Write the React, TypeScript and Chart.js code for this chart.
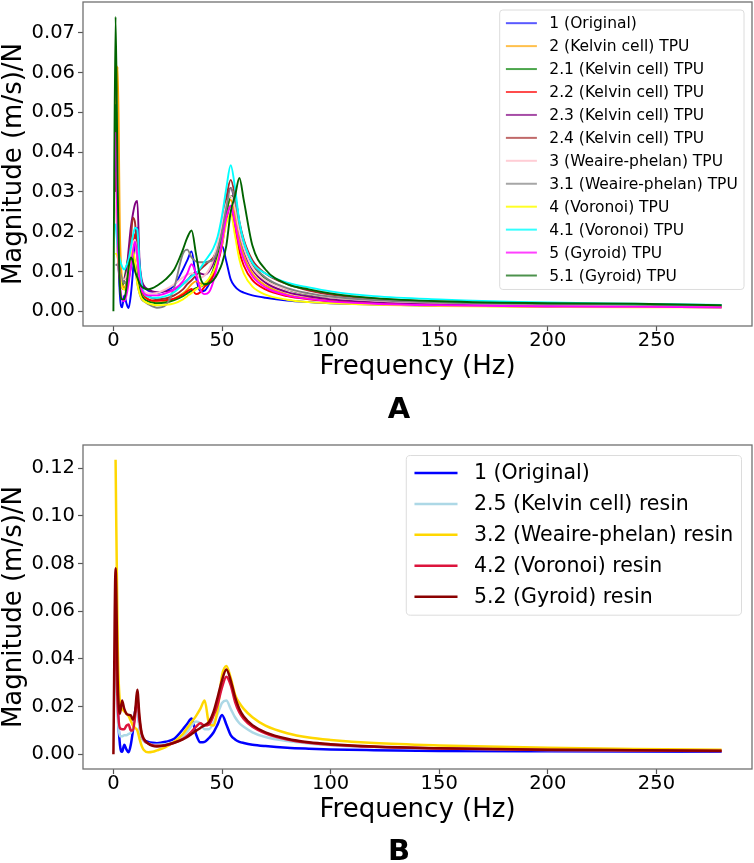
import React, { useEffect, useRef } from "react";
import { Chart, registerables } from "chart.js";

Chart.register(...registerables);

const FONT = "'DejaVu Sans', sans-serif";

// Shared frequency grid (Hz)
const freq = [0, 1, 2, 3, 4, 5, 6, 7, 8, 9, 10, 11, 12, 13, 14, 16, 18, 20, 24, 28, 32, 34, 36, 38, 40, 42, 44, 46, 48, 50, 52, 54, 56, 58, 60, 64, 70, 80, 90, 100, 120, 150, 200, 240, 280];

const xTicks = [0, 50, 100, 150, 200, 250];
const yTicksA = [0, 0.01, 0.02, 0.03, 0.04, 0.05, 0.06, 0.07];
const yTicksB = [0, 0.02, 0.04, 0.06, 0.08, 0.1, 0.12];

// Panel A series
const original = [null, 0.058, 0.02, 0.004, 0.001, 0.004, 0.002, 0.0008, 0.004, 0.01, 0.018, 0.021, 0.012, 0.007, 0.006, 0.0052, 0.0048, 0.0046, 0.0052, 0.0065, 0.0105, 0.0128, 0.015, 0.0085, 0.005, 0.0052, 0.0068, 0.009, 0.0125, 0.0165, 0.0125, 0.008, 0.0062, 0.0052, 0.0047, 0.004, 0.0034, 0.0027, 0.0023, 0.002, 0.0017, 0.0014, 0.0012, 0.0011, 0.001];
const kelvin2 = [null, 0.05, 0.0615, 0.02, 0.008, 0.006, 0.007, 0.009, 0.012, 0.016, 0.018, 0.013, 0.008, 0.005, 0.004, 0.003, 0.0025, 0.0022, 0.0025, 0.0032, 0.0045, 0.0055, 0.0068, 0.0075, 0.007, 0.0065, 0.0072, 0.0095, 0.013, 0.019, 0.025, 0.028, 0.024, 0.018, 0.014, 0.0095, 0.0065, 0.0042, 0.0032, 0.0026, 0.002, 0.0016, 0.0013, 0.0012, 0.0011];
const kelvin21 = [null, 0.052, 0.02, 0.008, 0.0065, 0.008, 0.011, 0.014, 0.016, 0.0145, 0.012, 0.009, 0.006, 0.004, 0.0032, 0.0025, 0.0022, 0.002, 0.0022, 0.0028, 0.0038, 0.0045, 0.0052, 0.0058, 0.0062, 0.0068, 0.008, 0.0105, 0.014, 0.019, 0.0245, 0.029, 0.0285, 0.022, 0.0175, 0.012, 0.0082, 0.0055, 0.0042, 0.0035, 0.0028, 0.0022, 0.0018, 0.0016, 0.0014];
const kelvin22 = [null, 0.045, 0.018, 0.009, 0.006, 0.0055, 0.006, 0.008, 0.011, 0.016, 0.0195, 0.017, 0.009, 0.0055, 0.004, 0.003, 0.0027, 0.0026, 0.0028, 0.0032, 0.0042, 0.005, 0.0056, 0.0043, 0.0048, 0.0062, 0.0072, 0.009, 0.012, 0.0165, 0.023, 0.0265, 0.021, 0.015, 0.0115, 0.0078, 0.0055, 0.0038, 0.003, 0.0025, 0.0019, 0.0015, 0.0012, 0.0011, 0.001];
const kelvin23 = [null, 0.04, 0.016, 0.009, 0.0075, 0.008, 0.01, 0.0155, 0.021, 0.0245, 0.027, 0.0277, 0.013, 0.008, 0.0065, 0.0055, 0.005, 0.0048, 0.005, 0.0055, 0.0068, 0.0078, 0.009, 0.0098, 0.0095, 0.0092, 0.01, 0.012, 0.0155, 0.0215, 0.028, 0.031, 0.027, 0.02, 0.0155, 0.0105, 0.0072, 0.0048, 0.0037, 0.003, 0.0023, 0.0018, 0.0014, 0.0013, 0.0012];
const kelvin24 = [null, 0.035, 0.014, 0.008, 0.006, 0.0055, 0.007, 0.011, 0.018, 0.0235, 0.022, 0.014, 0.008, 0.0055, 0.0045, 0.0038, 0.0033, 0.003, 0.0032, 0.004, 0.0055, 0.0068, 0.0078, 0.009, 0.0105, 0.0115, 0.0125, 0.0135, 0.016, 0.021, 0.0285, 0.033, 0.029, 0.0225, 0.018, 0.0128, 0.0095, 0.0068, 0.0052, 0.0042, 0.0032, 0.0024, 0.0019, 0.0017, 0.0015];
const weaire3 = [null, 0.03, 0.014, 0.009, 0.008, 0.008, 0.009, 0.011, 0.014, 0.017, 0.018, 0.014, 0.008, 0.006, 0.005, 0.0045, 0.0045, 0.0046, 0.0055, 0.0068, 0.0085, 0.0092, 0.0095, 0.009, 0.0085, 0.009, 0.0105, 0.013, 0.017, 0.022, 0.027, 0.029, 0.026, 0.02, 0.016, 0.011, 0.0078, 0.0055, 0.0043, 0.0035, 0.0027, 0.0021, 0.0017, 0.0015, 0.0014];
const weaire31 = [null, 0.0115, 0.0118, 0.01, 0.008, 0.007, 0.0075, 0.009, 0.011, 0.0125, 0.011, 0.007, 0.0045, 0.003, 0.0025, 0.0018, 0.0012, 0.0009, 0.0015, 0.006, 0.0145, 0.0155, 0.0135, 0.0125, 0.0123, 0.0123, 0.0125, 0.013, 0.0155, 0.02, 0.026, 0.031, 0.028, 0.022, 0.0175, 0.012, 0.0085, 0.0058, 0.0045, 0.0037, 0.0028, 0.0022, 0.0018, 0.0016, 0.0014];
const voronoi4 = [null, 0.0146, 0.0135, 0.009, 0.006, 0.0055, 0.0065, 0.009, 0.013, 0.0155, 0.012, 0.007, 0.0045, 0.0032, 0.0026, 0.002, 0.0017, 0.0015, 0.0016, 0.002, 0.003, 0.0038, 0.0046, 0.0055, 0.0062, 0.007, 0.0082, 0.01, 0.013, 0.017, 0.022, 0.0245, 0.019, 0.013, 0.0095, 0.0062, 0.0042, 0.0029, 0.0023, 0.002, 0.0016, 0.0013, 0.0011, 0.001, 0.001];
const voronoi41 = [null, 0.022, 0.016, 0.013, 0.0112, 0.0105, 0.0115, 0.013, 0.016, 0.019, 0.021, 0.0205, 0.012, 0.007, 0.0045, 0.0037, 0.0034, 0.0034, 0.0038, 0.0048, 0.0068, 0.0078, 0.0088, 0.0095, 0.0108, 0.0125, 0.014, 0.0158, 0.0188, 0.024, 0.031, 0.0367, 0.031, 0.0225, 0.0175, 0.0122, 0.0095, 0.0072, 0.006, 0.005, 0.0038, 0.003, 0.0022, 0.0019, 0.0016];
const gyroid5 = [null, 0.045, 0.018, 0.007, 0.003, 0.0025, 0.004, 0.007, 0.011, 0.015, 0.0175, 0.014, 0.008, 0.0055, 0.0045, 0.004, 0.004, 0.004, 0.0045, 0.0055, 0.0075, 0.0095, 0.0118, 0.0095, 0.0055, 0.0043, 0.0048, 0.0075, 0.012, 0.0175, 0.0235, 0.0265, 0.022, 0.0165, 0.013, 0.0088, 0.006, 0.004, 0.0031, 0.0025, 0.0019, 0.0015, 0.0012, 0.0011, 0.001];
const gyroid51 = [0, 0.074, 0.03, 0.006, 0.003, 0.003, 0.006, 0.011, 0.0135, 0.0125, 0.01, 0.0085, 0.007, 0.0062, 0.0058, 0.0055, 0.0058, 0.0064, 0.008, 0.0105, 0.0155, 0.0185, 0.0203, 0.0145, 0.0085, 0.0068, 0.007, 0.0078, 0.0095, 0.012, 0.0165, 0.025, 0.029, 0.0335, 0.028, 0.0165, 0.0105, 0.0068, 0.0055, 0.0045, 0.0033, 0.0025, 0.002, 0.0019, 0.0015];

// Panel B series
const kelvin25 = [null, 0.035, 0.015, 0.0075, 0.0075, 0.008, 0.008, 0.0085, 0.009, 0.011, 0.017, 0.02, 0.011, 0.007, 0.0055, 0.0045, 0.004, 0.004, 0.0042, 0.005, 0.0075, 0.0095, 0.012, 0.0137, 0.013, 0.0105, 0.0105, 0.013, 0.017, 0.0215, 0.0225, 0.019, 0.0155, 0.013, 0.0115, 0.0092, 0.0072, 0.0055, 0.0045, 0.0038, 0.003, 0.0024, 0.0018, 0.0016, 0.0014];
const weaire32 = [null, 0.1235, 0.045, 0.022, 0.019, 0.018, 0.017, 0.016, 0.014, 0.012, 0.011, 0.01, 0.0065, 0.0035, 0.0018, 0.0008, 0.001, 0.0016, 0.003, 0.0052, 0.0085, 0.011, 0.0135, 0.016, 0.019, 0.0225, 0.013, 0.012, 0.019, 0.033, 0.037, 0.032, 0.025, 0.0215, 0.019, 0.0155, 0.012, 0.0088, 0.007, 0.006, 0.0047, 0.0037, 0.0027, 0.0022, 0.0019];
const voronoi42 = [null, 0.048, 0.02, 0.011, 0.0105, 0.0105, 0.012, 0.0125, 0.01, 0.01, 0.016, 0.024, 0.014, 0.0085, 0.006, 0.0045, 0.0038, 0.0035, 0.0038, 0.0048, 0.0065, 0.0078, 0.0095, 0.0115, 0.013, 0.012, 0.0125, 0.016, 0.021, 0.028, 0.0325, 0.029, 0.022, 0.0175, 0.0148, 0.0115, 0.0088, 0.0062, 0.0048, 0.004, 0.0031, 0.0024, 0.0018, 0.0016, 0.0014];
const gyroid52 = [0, 0.078, 0.03, 0.017, 0.0225, 0.019, 0.017, 0.0165, 0.0163, 0.0145, 0.018, 0.027, 0.016, 0.009, 0.0065, 0.0045, 0.0035, 0.0032, 0.0038, 0.0048, 0.0062, 0.0072, 0.0085, 0.0098, 0.011, 0.0122, 0.0135, 0.0175, 0.024, 0.031, 0.0355, 0.031, 0.024, 0.019, 0.0158, 0.0122, 0.0092, 0.0065, 0.005, 0.0042, 0.0032, 0.0025, 0.0019, 0.0017, 0.0015];

const labelsA = [
  "1 (Original)",
  "2 (Kelvin cell) TPU",
  "2.1 (Kelvin cell) TPU",
  "2.2 (Kelvin cell) TPU",
  "2.3 (Kelvin cell) TPU",
  "2.4 (Kelvin cell) TPU",
  "3 (Weaire-phelan) TPU",
  "3.1 (Weaire-phelan) TPU",
  "4 (Voronoi) TPU",
  "4.1 (Voronoi) TPU",
  "5 (Gyroid) TPU",
  "5.1 (Gyroid) TPU",
];
const colorsA = ["#0000ff", "#ffa500", "#008000", "#ff0000", "#800080", "#a52a2a", "#ffc0cb", "#808080", "#ffff00", "#00ffff", "#ff00ff", "#006400"];
const legendColorsA = [
  "rgba(0,0,255,0.65)",
  "rgba(255,165,0,0.7)",
  "rgba(0,128,0,0.7)",
  "rgba(255,0,0,0.7)",
  "rgba(128,0,128,0.7)",
  "rgba(165,42,42,0.7)",
  "rgba(255,192,203,0.8)",
  "rgba(128,128,128,0.7)",
  "rgba(255,255,0,0.85)",
  "rgba(0,255,255,0.8)",
  "rgba(255,0,255,0.75)",
  "rgba(0,100,0,0.7)",
];
const seriesA = [original, kelvin2, kelvin21, kelvin22, kelvin23, kelvin24, weaire3, weaire31, voronoi4, voronoi41, gyroid5, gyroid51];

const labelsB = [
  "1 (Original)",
  "2.5 (Kelvin cell) resin",
  "3.2 (Weaire-phelan) resin",
  "4.2 (Voronoi) resin",
  "5.2 (Gyroid) resin",
];
const colorsB = ["#0000ff", "#add8e6", "#ffd700", "#dc143c", "#8b0000"];
const seriesB = [original, kelvin25, weaire32, voronoi42, gyroid52];

function toPoints(values: (number | null)[]) {
  return freq
    .map((f, i) => ({ x: f, y: values[i] }))
    .filter((p) => p.y !== null && p.y !== undefined);
}

function buildDatasets(series: any[], labels: string[], colors: string[], width: number) {
  const n = series.length;
  return series.map((s, i) => ({
    label: labels[i],
    data: toPoints(s),
    borderColor: colors[i],
    backgroundColor: colors[i],
    borderWidth: width,
    pointRadius: 0,
    fill: false,
    cubicInterpolationMode: "monotone",
    order: n - i,
  }));
}

const frameLegendPlugin = {
  id: "boxLegend",
  afterDraw(chart: any, _args: any, opts: any) {
    const { ctx, chartArea: a } = chart;
    ctx.save();
    // frame
    ctx.strokeStyle = "#707070";
    ctx.lineWidth = 1.3;
    ctx.strokeRect(a.left, a.top, a.right - a.left, a.bottom - a.top);

    // legend
    const fs = opts.fontSize;
    const items = opts.items as { label: string; color: string }[];
    ctx.font = `${fs}px ${FONT}`;
    const maxW = Math.max(...items.map((it) => ctx.measureText(it.label).width));
    const pad = 0.4 * fs;
    const handle = opts.handle * fs;
    const gap = 0.8 * fs;
    const row = opts.row * fs;
    const w = pad + handle + gap + maxW + pad;
    const h = 0.85 * fs + (items.length - 1) * row + 0.9 * fs;
    const x0 = a.right - opts.offset - w;
    const y0 = a.top + opts.offset;
    const r = 0.2 * fs;
    ctx.beginPath();
    ctx.moveTo(x0 + r, y0);
    ctx.lineTo(x0 + w - r, y0);
    ctx.quadraticCurveTo(x0 + w, y0, x0 + w, y0 + r);
    ctx.lineTo(x0 + w, y0 + h - r);
    ctx.quadraticCurveTo(x0 + w, y0 + h, x0 + w - r, y0 + h);
    ctx.lineTo(x0 + r, y0 + h);
    ctx.quadraticCurveTo(x0, y0 + h, x0, y0 + h - r);
    ctx.lineTo(x0, y0 + r);
    ctx.quadraticCurveTo(x0, y0, x0 + r, y0);
    ctx.closePath();
    ctx.fillStyle = "rgba(255,255,255,0.8)";
    ctx.fill();
    ctx.strokeStyle = "#dcdcdc";
    ctx.lineWidth = 1;
    ctx.stroke();

    ctx.textBaseline = "middle";
    ctx.textAlign = "left";
    items.forEach((it, i) => {
      const cy = y0 + 0.85 * fs + i * row;
      ctx.beginPath();
      ctx.strokeStyle = it.color;
      ctx.lineWidth = opts.lineWidth;
      ctx.moveTo(x0 + pad, cy);
      ctx.lineTo(x0 + pad + handle, cy);
      ctx.stroke();
      ctx.fillStyle = "#000";
      ctx.fillText(it.label, x0 + pad + handle + gap, cy + 1);
    });
    ctx.restore();
  },
};

type PanelProps = {
  top: number;
  height: number;
  padTop: number;
  datasets: any[];
  yTicks: number[];
  yMin: number;
  yMax: number;
  legend: any;
};

function Panel({ top, height, padTop, datasets, yTicks, yMin, yMax, legend }: PanelProps) {
  const ref = useRef<HTMLCanvasElement | null>(null);
  useEffect(() => {
    if (!ref.current) return;
    const tickFont = { family: FONT, size: 19.5 };
    const titleFont = { family: FONT, size: 26 };
    const chart = new Chart(ref.current, {
      type: "line",
      data: { datasets },
      options: {
        animation: false,
        responsive: false,
        layout: { padding: { top: padTop, right: 2, left: 0, bottom: 0 } },
        plugins: {
          legend: { display: false },
          tooltip: { enabled: false },
          boxLegend: legend,
        } as any,
        scales: {
          x: {
            type: "linear",
            min: -14,
            max: 294,
            afterBuildTicks: (s: any) => {
              s.ticks = xTicks.map((v) => ({ value: v }));
            },
            afterFit: (s: any) => {
              s.height = 66;
              s.paddingLeft = 0;
              s.paddingRight = 0;
            },
            ticks: {
              font: tickFont,
              color: "#000",
              padding: -2,
              autoSkip: false,
              maxRotation: 0,
              callback: (v: any) => String(v),
            },
            grid: {
              display: true,
              drawOnChartArea: false,
              drawTicks: true,
              tickLength: 5,
              tickColor: "#555",
              tickWidth: 1.2,
            },
            border: { display: false },
            title: {
              display: true,
              text: "Frequency (Hz)",
              font: titleFont,
              color: "#000",
              padding: { top: 0, bottom: 9 },
            },
          },
          y: {
            type: "linear",
            min: yMin,
            max: yMax,
            afterBuildTicks: (s: any) => {
              s.ticks = yTicks.map((v) => ({ value: v }));
            },
            afterFit: (s: any) => {
              s.width = 83;
              s.paddingTop = 0;
              s.paddingBottom = 0;
            },
            ticks: {
              font: tickFont,
              color: "#000",
              padding: 3,
              autoSkip: false,
              callback: (v: any) => Number(v).toFixed(2),
            },
            grid: {
              display: true,
              drawOnChartArea: false,
              drawTicks: true,
              tickLength: 5,
              tickColor: "#555",
              tickWidth: 1.2,
            },
            border: { display: false },
            title: {
              display: true,
              text: "Magnitude (m/s)/N",
              font: { ...titleFont, lineHeight: 1.1 },
              color: "#000",
              padding: { top: 0, bottom: 0 },
            },
          },
        },
      } as any,
      plugins: [frameLegendPlugin],
    });
    return () => chart.destroy();
  }, []);
  return (
    <canvas
      ref={ref}
      width={754}
      height={height}
      style={{ position: "absolute", left: 0, top, width: 754, height, display: "block" }}
    />
  );
}

export default function App() {
  const datasetsA = buildDatasets(seriesA, labelsA, colorsA, 1.9);
  const datasetsB = buildDatasets(seriesB, labelsB, colorsB, 2.5);
  const legendA = {
    items: labelsA.map((l, i) => ({ label: l, color: legendColorsA[i] })),
    fontSize: 15.5,
    handle: 2,
    row: 1.48,
    offset: 8,
    lineWidth: 2,
  };
  const legendB = {
    items: labelsB.map((l, i) => ({ label: l, color: colorsB[i] })),
    fontSize: 20.5,
    handle: 2.1,
    row: 1.51,
    offset: 10.5,
    lineWidth: 2.5,
  };
  const labelStyle: React.CSSProperties = {
    position: "absolute",
    left: 0,
    width: 798,
    textAlign: "center",
    fontFamily: FONT,
    fontWeight: "bold",
    fontSize: 29,
    lineHeight: "32px",
    color: "#000",
  };
  return (
    <div style={{ position: "absolute", left: 0, top: 0, width: 754, height: 863, background: "#fff", overflow: "hidden" }}>
      <Panel top={0} height={392} padTop={2} datasets={datasetsA} yTicks={yTicksA} yMin={-0.0037} yMax={0.0777} legend={legendA} />
      <div style={{ ...labelStyle, top: 408 - 16 }}>A</div>
      <Panel top={430} height={405} padTop={15} datasets={datasetsB} yTicks={yTicksB} yMin={-0.0062} yMax={0.1297} legend={legendB} />
      <div style={{ ...labelStyle, top: 850 - 16 }}>B</div>
    </div>
  );
}
